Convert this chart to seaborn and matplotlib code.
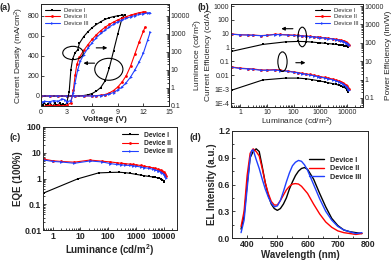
import matplotlib
matplotlib.use("Agg")
import matplotlib.pyplot as plt
from matplotlib.patches import Ellipse
import seaborn as sns

devices = ["Device I", "Device II", "Device III"]
colors = ["black", "red", "#2040ff"]
markers = ["s", "o", ">"]

# (a) current density / luminance vs voltage
v_j = [[0, 0.5, 1, 1.5, 2, 2.5, 3, 3.5, 4, 4.5, 5, 5.5, 6, 6.5, 7, 7.5, 8, 8.5, 9, 9.5, 9.8],
       [0, 1, 2, 3, 4, 5, 6, 6.5, 7, 7.5, 8, 8.5, 9, 9.5, 10, 10.5, 11, 11.5, 12, 12.2],
       [0, 1, 2, 3, 4, 5, 6, 6.5, 7, 7.5, 8, 8.5, 9, 9.5, 10, 10.5, 11, 11.5, 12, 12.5, 12.8]]
j_dens = [[0, 0, 0, 0, 0, 0, 0, 0, 1, 2, 5, 12, 25, 50, 85, 150, 280, 450, 620, 780, 810],
          [0, 0, 0, 0, 0, 0, 2, 4, 8, 15, 30, 55, 90, 140, 205, 300, 420, 540, 650, 690],
          [0, 0, 0, 0, 0, 0, 1, 2, 5, 10, 20, 35, 60, 90, 135, 190, 260, 340, 430, 560, 640]]
v_l = [[0.2, 0.4, 0.6, 0.8, 1.0, 1.2, 1.4, 1.6, 1.8, 2.0, 2.2, 2.4, 2.6, 2.8, 3.0, 3.3, 3.5, 3.7, 4.0, 4.3,
        4.5, 5.0, 5.5, 6.0, 6.5, 7.0, 7.5, 8.0, 8.5, 9.0, 9.5, 9.8],
       [0.5, 1.0, 1.5, 2.0, 2.5, 3.0, 3.5, 3.8, 4.0, 4.2, 4.5, 5.0, 5.5, 6.0, 6.5, 7.0, 7.5, 8.0, 8.5,
        9.0, 9.5, 10.0, 10.5, 11.0, 11.5, 12.0, 12.2],
       [0.2, 0.5, 1.0, 1.5, 2.0, 2.5, 2.8, 3.0, 3.5, 3.8, 4.0, 4.3, 4.6, 5.0, 5.5, 6.0, 6.5, 7.0, 7.5,
        8.0, 8.5, 9.0, 9.5, 10.0, 10.5, 11.0, 11.5, 12.0, 12.5, 12.8]]
lum = [[0.12, 0.15, 0.11, 0.13, 0.16, 0.12, 0.1, 0.14, 0.12, 0.11, 0.15, 0.12, 0.13, 0.11, 0.14, 0.6, 10, 40,
        90, 130, 300, 700, 1300, 2200, 3300, 4700, 6300, 7800, 9000, 10000, 10800, 11000],
       [0.1, 0.11, 0.1, 0.11, 0.1, 0.11, 0.15, 0.8, 5, 20, 50, 120, 250, 500, 900, 1500, 2300, 3300, 4500,
        5900, 7400, 9000, 10800, 12800, 14800, 16300, 16800],
       [0.17, 0.18, 0.17, 0.2, 0.18, 0.25, 0.22, 0.17, 0.2, 0.5, 2, 10, 30, 70, 160, 330, 620, 1050, 1600,
        2400, 3400, 4600, 5900, 7300, 8800, 10300, 11800, 13200, 14300, 15000]]

# (b) current / power efficiency vs luminance
lum_b = [[0.5, 7, 50, 150, 300, 500, 800, 1000, 1500, 2000, 3000, 4000, 5000, 6000, 7000, 8000, 9000, 10000, 10500],
         [0.5, 1, 2, 3, 6, 10, 20, 30, 60, 100, 150, 200, 300, 400, 600, 800, 1000, 1500, 2000, 3000, 4000,
          5000, 6000, 7000, 8000, 9000, 10000, 11000, 12000],
         [0.5, 1, 2, 3, 6, 10, 20, 30, 60, 100, 150, 200, 300, 400, 600, 800, 1000, 1500, 2000, 3000, 4000,
          5000, 6000, 7000, 8000, 9000, 10000, 11000, 12000]]
ce = [[0.55, 1.7, 2.6, 2.8, 2.7, 2.5, 2.3, 2.2, 2.05, 1.95, 1.8, 1.7, 1.6, 1.55, 1.5, 1.42, 1.35, 1.25, 1.1],
      [9.5, 8.5, 8.2, 8, 7.4, 7.8, 9.2, 9, 8.4, 8, 7.6, 7.2, 6.8, 6.5, 6, 5.7, 5.4, 5, 4.7, 4.3, 3.9, 3.6,
       3.4, 3.1, 2.8, 2.5, 2.2, 1.9, 1.6],
      [9.2, 8.3, 8.0, 7.8, 7.2, 7.6, 8.8, 8.6, 8.0, 7.6, 7.2, 6.9, 6.5, 6.2, 5.8, 5.5, 5.2, 4.8, 4.5, 4.1,
       3.7, 3.4, 3.2, 2.9, 2.6, 2.3, 2.0, 1.75, 1.5]]
pe = [[0.27, 0.95, 1.2, 1.2, 1.1, 0.98, 0.88, 0.82, 0.74, 0.67, 0.6, 0.54, 0.49, 0.45, 0.41, 0.37, 0.33, 0.28, 0.22],
      [4.8, 4.2, 3.9, 3.8, 3.3, 3.3, 3.5, 3.3, 2.9, 2.6, 2.4, 2.2, 2.0, 1.9, 1.7, 1.55, 1.45, 1.3, 1.2, 1.05,
       0.92, 0.82, 0.74, 0.66, 0.58, 0.5, 0.42, 0.36, 0.3],
      [4.6, 4.0, 3.8, 3.6, 3.2, 3.2, 3.3, 3.1, 2.8, 2.5, 2.3, 2.1, 1.9, 1.8, 1.6, 1.45, 1.35, 1.2, 1.1, 0.95,
       0.84, 0.75, 0.67, 0.6, 0.52, 0.45, 0.38, 0.32, 0.27]]

# (c) EQE vs luminance
lum_c = [[0.5, 8, 45, 120, 250, 400, 600, 1000, 1500, 2000, 3000, 4000, 5000, 6000, 7000, 8000, 9000, 10000, 10500],
         [0.5, 1, 2, 6, 22, 60, 120, 200, 300, 400, 600, 800, 1000, 1500, 2000, 3000, 4000, 5000, 6000, 7000,
          8000, 9000, 10000, 11000, 12000],
         [0.5, 1, 2, 6, 22, 60, 120, 200, 300, 400, 600, 800, 1000, 1500, 2000, 3000, 4000, 5000, 6000, 7000,
          8000, 9000, 10000, 11000, 12000]]
eqe = [[0.28, 0.97, 1.65, 1.72, 1.75, 1.68, 1.6, 1.45, 1.35, 1.28, 1.2, 1.15, 1.1, 1.07, 1.03, 0.98, 0.9, 0.82, 0.72],
       [5.6, 4.9, 4.6, 4.3, 5.2, 4.7, 4.4, 4.1, 3.9, 3.8, 3.6, 3.5, 3.4, 3.2, 3.0, 2.8, 2.6, 2.45, 2.3, 2.2,
        2.05, 1.9, 1.75, 1.55, 1.3],
       [5.2, 4.6, 4.4, 3.9, 4.8, 4.4, 3.8, 3.5, 3.4, 3.3, 3.2, 3.1, 3.0, 2.8, 2.65, 2.45, 2.3, 2.15, 2.0, 1.9,
        1.75, 1.6, 1.45, 1.25, 1.05]]

# (d) EL spectra
wl = [[380, 390, 400, 410, 420, 430, 440, 450, 460, 470, 480, 490, 500, 510, 520, 530, 540, 550, 560, 570,
       580, 590, 600, 620, 640, 660, 680, 700, 720, 740, 760, 780],
      [380, 390, 400, 410, 420, 430, 440, 450, 460, 470, 480, 490, 500, 510, 520, 530, 540, 550, 560, 570,
       580, 600, 620, 640, 660, 680, 700, 720, 740, 760, 780],
      [380, 390, 400, 410, 415, 420, 430, 440, 450, 460, 470, 480, 490, 500, 510, 520, 530, 540, 550, 560,
       570, 580, 590, 600, 620, 640, 660, 680, 700, 720, 740, 760, 780]]
el = [[0.1, 0.25, 0.6, 0.9, 0.97, 1.0, 0.97, 0.8, 0.62, 0.48, 0.38, 0.33, 0.31, 0.33, 0.38, 0.45, 0.55, 0.63,
       0.7, 0.75, 0.78, 0.79, 0.77, 0.66, 0.5, 0.35, 0.22, 0.14, 0.09, 0.07, 0.06, 0.05],
      [0.13, 0.3, 0.7, 0.95, 1.0, 0.97, 0.92, 0.78, 0.62, 0.5, 0.41, 0.37, 0.37, 0.42, 0.48, 0.54, 0.58, 0.605,
       0.61, 0.605, 0.58, 0.5, 0.38, 0.27, 0.18, 0.12, 0.08, 0.06, 0.05, 0.04, 0.05],
      [0.06, 0.2, 0.55, 0.9, 0.98, 0.99, 0.88, 0.78, 0.66, 0.55, 0.46, 0.39, 0.35, 0.36, 0.42, 0.52, 0.63, 0.73,
       0.81, 0.85, 0.87, 0.86, 0.82, 0.76, 0.6, 0.44, 0.3, 0.2, 0.13, 0.09, 0.07, 0.05, 0.06]]

sns.set_style("ticks")
plt.rcParams['font.family'] = ['Liberation Sans', 'DejaVu Sans']
plt.rcParams['mathtext.default'] = 'regular'

W, H = 392, 261
fig = plt.figure(figsize=(W / 100, H / 100), dpi=100)


def box(x0, y0, x1, y1):
    return [x0 / W, 1 - y1 / H, (x1 - x0) / W, (y1 - y0) / H]


def style(ax, size=5, bold=False):
    ax.tick_params(which='both', direction='in', labelsize=size, pad=1.2, width=0.6)
    ax.tick_params(which='major', length=2.5)
    ax.tick_params(which='minor', length=1.3)
    for s in ax.spines.values():
        s.set_linewidth(0.7)
    if bold:
        for t in ax.get_xticklabels() + ax.get_yticklabels():
            t.set_fontweight('bold')


def draw(ax, x, y, i, mk=True, lw=0.8):
    sns.lineplot(x=x, y=y, ax=ax, color=colors[i], marker=markers[i] if mk else None,
                 markersize=2.0, markeredgewidth=0, linewidth=lw, sort=False, legend=False)


def ellipse(ax, cx, cy, w, h):
    ax.add_patch(Ellipse((cx, cy), w, h, transform=ax.transAxes, fill=False, lw=0.8, color='k', zorder=5))


def arrow(ax, x0, x1, y):
    ax.annotate('', xy=(x1, y), xytext=(x0, y), xycoords='axes fraction',
                arrowprops=dict(arrowstyle='-|>', color='k', lw=0.8, mutation_scale=5))


lab_kw = dict(fontsize=6, labelpad=1)

# ---- (a)
axa = fig.add_axes(box(41, 4, 169, 106))
axa2 = axa.twinx()
for i in range(3):
    draw(axa, v_j[i], j_dens[i], i)
    draw(axa2, v_l[i], lum[i], i)
axa.set_xlim(0, 15)
axa.set_ylim(-100, 920)
axa.set_xticks([0, 3, 6, 9, 12, 15])
axa.set_yticks([0, 200, 400, 600, 800])
axa2.set_yscale('log')
axa2.set_ylim(0.1, 45000)
axa2.set_yticks([0.1, 1, 10, 100, 1000, 10000])
axa2.set_yticklabels(["0.1", "1", "10", "100", "1000", "10000"])
axa.set_xlabel("Voltage (V)", fontsize=6, labelpad=0, fontweight='bold')
axa.set_ylabel("Current Density (mA/cm$^2$)", **lab_kw)
axa2.set_ylabel("Luminance (cd/m$^2$)", **lab_kw)
style(axa)
style(axa2)
axa.tick_params(axis='x', pad=2.2)
handles = [plt.Line2D([], [], color=colors[i], marker=markers[i], ms=2.0, mew=0, lw=0.8) for i in range(3)]
axa2.legend(handles, devices, loc='upper left', fontsize=4.2, frameon=False, handlelength=2.5,
            borderaxespad=0.3, labelspacing=0.2)
ellipse(axa2, 0.25, 0.52, 0.16, 0.13)
ellipse(axa2, 0.53, 0.36, 0.22, 0.215)
arrow(axa2, 0.41, 0.54, 0.57)
arrow(axa2, 0.44, 0.31, 0.42)

# ---- (b)
axb = fig.add_axes(box(231, 4, 363, 107))
axb2 = axb.twinx()
for i in range(3):
    draw(axb, lum_b[i], ce[i], i)
    draw(axb2, lum_b[i], pe[i], i)
axb.set_xscale('log')
axb.set_yscale('log')
axb2.set_yscale('log')
axb.set_xlim(0.45, 40000)
axb.set_ylim(5.2e-5, 1400)
axb.set_yticks([1e-4, 1e-3, 0.01, 0.1, 1, 10, 100, 1000])
axb.set_yticklabels(["1E-4", "1E-3", "0.01", "0.1", "1", "10", "100", "1000"])
axb.set_xticks([1, 10, 100, 1000, 10000])
axb.set_xticklabels(["1", "10", "100", "1000", "10000"])
axb2.set_ylim(0.032, 13000)
axb2.set_yticks([0.1, 1, 10, 100, 1000, 10000])
axb2.set_yticklabels(["0.1", "1", "10", "100", "1000", "10000"])
axb.set_xlabel("Luminance (cd/m$^2$)", fontsize=6, labelpad=0)
axb.set_ylabel("Current Efficiency (cd/A)", **lab_kw)
axb2.set_ylabel("Power Efficiency (lm/W)", **lab_kw)
style(axb)
style(axb2)
axb2.legend(handles, devices, loc='upper right', fontsize=4.2, frameon=False, handlelength=2.5,
            borderaxespad=0.3, labelspacing=0.2)
ellipse(axb2, 0.54, 0.68, 0.065, 0.19)
ellipse(axb2, 0.39, 0.44, 0.07, 0.19)
arrow(axb2, 0.49, 0.36, 0.76)
arrow(axb2, 0.47, 0.585, 0.43)

# ---- (c)
axc = fig.add_axes(box(43, 127, 177, 230))
for i in range(3):
    draw(axc, lum_c[i], eqe[i], i)
axc.set_xscale('log')
axc.set_yscale('log')
axc.set_xlim(0.45, 30000)
axc.set_ylim(0.01, 100)
axc.set_xticks([1, 10, 100, 1000, 10000])
axc.set_xticklabels(["1", "10", "100", "1000", "10000"])
axc.set_yticks([0.01, 0.1, 1, 10, 100])
axc.set_yticklabels(["0.01", "0.1", "1", "10", "100"])
axc.set_xlabel("Luminance (cd/m$^2$)", fontsize=7, fontweight='bold', labelpad=1)
axc.set_ylabel("EQE (100%)", fontsize=7, fontweight='bold', labelpad=1)
style(axc, 6.3, True)
axc.legend(handles, devices, loc='upper right', frameon=False, handlelength=2.5,
           borderaxespad=0.3, labelspacing=0.2, prop=dict(weight='bold', size=4.8))

# ---- (d)
axd = fig.add_axes(box(232, 131, 368, 238))
for i in range(3):
    draw(axd, wl[i], el[i], i, mk=False, lw=1.0)
axd.set_xlim(350, 800)
axd.set_ylim(0, 1.2)
axd.set_xticks([400, 500, 600, 700, 800])
axd.set_yticks([0.0, 0.3, 0.6, 0.9, 1.2])
axd.set_yticklabels(["0.0", "0.3", "0.6", "0.9", "1.2"])
axd.set_xticks([450, 550, 650, 750], minor=True)
axd.set_yticks([0.15, 0.45, 0.75, 1.05], minor=True)
axd.set_xlabel("Wavelength (nm)", fontsize=7, fontweight='bold', labelpad=1)
axd.set_ylabel("EL Intensity (a.u.)", fontsize=7, fontweight='bold', labelpad=1)
style(axd, 6.3, True)
lhand = [plt.Line2D([], [], color=colors[i], lw=1.0) for i in range(3)]
axd.legend(lhand, devices, loc='upper right', bbox_to_anchor=(1.0, 0.82), frameon=False,
           handlelength=2.2, labelspacing=0.2, prop=dict(weight='bold', size=5.2))

fig.text(0 / W, 1 - 7 / H, "(a)", fontsize=6.5, fontweight='bold', va='center')
fig.text(197 / W, 1 - 7 / H, "(b)", fontsize=6.5, fontweight='bold', va='center')
fig.text(10 / W, 1 - 137 / H, "(c)", fontsize=6.5, fontweight='bold', va='center')
fig.text(190 / W, 1 - 137 / H, "(d)", fontsize=6.5, fontweight='bold', va='center')

fig.savefig("out.png", dpi=100)
